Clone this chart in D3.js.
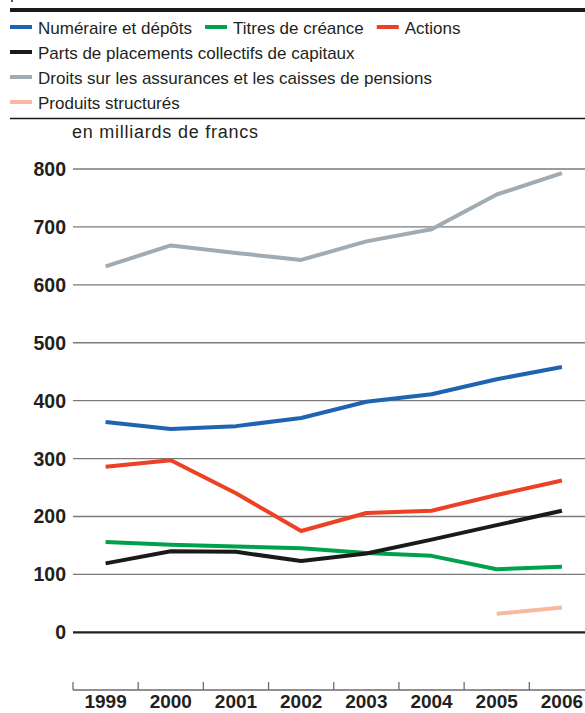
<!DOCTYPE html>
<html>

<head>
    <meta charset="utf-8">
    <title>Patrimoine financier</title>
    <script src="https://d3js.org/d3.v7.min.js"></script>
    <style>
        body { margin: 0; background: #fff; }
        text { font-family: "Liberation Sans", Arial, sans-serif; fill: #231f20; }
    </style>
</head>

<body>

    <svg width="585" height="713" id="mainSvg" class="svgs"></svg>
    <script>
        const years = ["1999", "2000", "2001", "2002", "2003", "2004", "2005", "2006"];
        const yTicks = [0, 100, 200, 300, 400, 500, 600, 700, 800];

        const numeraire = [363, 351, 356, 370, 398, 411, 437, 458];
        const titres = [156, 151, 148, 145, 137, 132, 109, 113];
        const actions = [286, 297, 240, 175, 206, 210, 237, 262];
        const placements = [119, 140, 139, 123, 136, 160, 185, 210];
        const assurances = [632, 668, 655, 643, 675, 696, 756, 793];
        const structures = [null, null, null, null, null, null, 32, 43];

        const seriesNames = [
            "Numéraire et dépôts", "Titres de créance", "Actions",
            "Parts de placements collectifs de capitaux",
            "Droits sur les assurances et les caisses de pensions",
            "Produits structurés"
        ];
        const seriesColors = ["#1f64b1", "#00a14b", "#ec4124", "#1a1a1a", "#a1abb3", "#f8b9a0"];

        const series = [numeraire, titres, actions, placements, assurances, structures]
            .map((values, i) => ({ name: seriesNames[i], color: seriesColors[i], values: values }));

        const mainSvg = d3.select('.svgs');
        const width = +mainSvg.attr("width");

        // header rules
        mainSvg.append("line").attr("x1", 10).attr("x2", width).attr("y1", 10).attr("y2", 10)
            .attr("stroke", "#1a1a1a").attr("stroke-width", 4);
        mainSvg.append("line").attr("x1", 12).attr("x2", 12).attr("y1", 0).attr("y2", 2)
            .attr("stroke", "#1a1a1a").attr("stroke-width", 1.5);
        mainSvg.append("line").attr("x1", 10).attr("x2", width).attr("y1", 118.5).attr("y2", 118.5)
            .attr("stroke", "#1a1a1a").attr("stroke-width", 1.3);

        // legend: first row holds three items, then one per row
        const legendRows = [[0, 1, 2], [3], [4], [5]];
        const legend = mainSvg.append("g").attr("class", "legend");
        legendRows.forEach((row, r) => {
            let x = 10;
            const y = 27 + r * 25;
            row.forEach(idx => {
                const s = series[idx];
                legend.append("line").attr("x1", x).attr("x2", x + 22).attr("y1", y).attr("y2", y)
                    .attr("stroke", s.color).attr("stroke-width", 4);
                const t = legend.append("text").attr("x", x + 28).attr("y", y + 7)
                    .attr("font-size", 17).text(s.name);
                x = x + 28 + t.node().getComputedTextLength() + 13;
            });
        });

        mainSvg.append("text").attr("x", 72).attr("y", 138).attr("font-size", 18)
            .attr("textLength", 186).attr("lengthAdjust", "spacing")
            .text("en milliards de francs");

        // scales
        const x = d3.scaleBand().domain(years).range([73, 594.5]);
        const y = d3.scaleLinear().domain([0, 800]).range([632.3, 169]);

        // horizontal grid
        const grid = mainSvg.append("g").attr("class", "grid");
        grid.selectAll("line").data(yTicks).join("line")
            .attr("x1", 73).attr("x2", width)
            .attr("y1", d => y(d)).attr("y2", d => y(d))
            .attr("stroke", d => d === 0 ? "#231f20" : "#7a7a7a")
            .attr("stroke-width", d => d === 0 ? 2.2 : 1.3);
        grid.selectAll("text").data(yTicks).join("text")
            .attr("x", 66).attr("y", d => y(d) + 7)
            .attr("text-anchor", "end").attr("font-size", 19.5).attr("font-weight", "bold")
            .text(d => d);

        // bottom axis
        const xAxis = mainSvg.append("g").attr("transform", "translate(0,690)");
        xAxis.append("line").attr("x1", 73).attr("x2", width).attr("y1", 0).attr("y2", 0)
            .attr("stroke", "#6d6d6d").attr("stroke-width", 1.3);
        xAxis.selectAll(".tick").data(years).join("line").attr("class", "tick")
            .attr("x1", d => x(d)).attr("x2", d => x(d)).attr("y1", 0).attr("y2", -8)
            .attr("stroke", "#6d6d6d").attr("stroke-width", 1.3);
        xAxis.selectAll("text").data(years).join("text")
            .attr("x", d => x(d) + x.bandwidth() / 2).attr("y", 18)
            .attr("text-anchor", "middle").attr("font-size", 19).attr("font-weight", "bold")
            .text(d => d);

        // lines
        const line = d3.line()
            .defined(d => d != null)
            .x((d, i) => x(years[i]) + x.bandwidth() / 2)
            .y(d => y(d));

        mainSvg.append("g").selectAll("path").data(series).join("path")
            .attr("d", d => line(d.values))
            .attr("fill", "none")
            .attr("stroke", d => d.color)
            .attr("stroke-width", 4)
            .attr("stroke-linejoin", "round");
    </script>
</body>

</html>
